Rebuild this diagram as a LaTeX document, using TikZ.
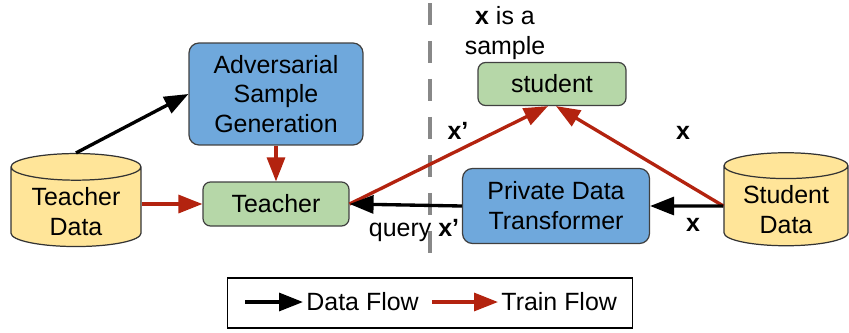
\documentclass[tikz,border=0pt]{standalone}
\usepackage{fontspec}
\setmainfont{Liberation Sans}
\usetikzlibrary{arrows.meta,shapes.geometric}

\definecolor{boxblue}{HTML}{6FA8DC}
\definecolor{boxgreen}{HTML}{B6D7A8}
\definecolor{datayellow}{HTML}{FFE599}
\definecolor{trainred}{HTML}{B3230F}
\definecolor{dashgray}{HTML}{888888}

\begin{document}
\begin{tikzpicture}[x=0.02cm,y=-0.02cm,
    font=\fontsize{14.2}{17}\selectfont,
    flow/.style={line width=1.9pt,-{Triangle[length=0.48cm,width=0.36cm]}},
    dataflow/.style={flow,black},
    trainflow/.style={flow,trainred},
    proc/.style={draw=black!75,line width=0.7pt,rounded corners=0.2cm,fill=boxblue,align=center,inner sep=0pt},
    model/.style={draw=black!75,line width=0.7pt,rounded corners=0.15cm,fill=boxgreen,align=center,inner sep=0pt},
    store/.style={cylinder,shape border rotate=90,aspect=0.3,draw=black!80,line width=0.7pt,fill=datayellow,align=center,inner sep=0pt},
    lbl/.style={font=\fontsize{14.2}{17}\selectfont\bfseries}]
    \useasboundingbox (0,0) rectangle (849,332);
    %\draw[very thin,color=gray] (0,0) grid[step=1cm] (849,332);
    \draw[dashgray,line width=0.08cm,dash pattern=on 0.44cm off 0.32cm] (430,3) -- (430,266);

    \node[store,minimum width=2.6cm,minimum height=1.86cm] (tdata) at (76,207) {\phantom{Teacher}\\\phantom{Data}};
    \node[align=center] (tdatatext) at (76,212) {Teacher\\Data};
    \node[proc,minimum width=3.48cm,minimum height=2.04cm] (adv) at (276,94) {Adversarial\\Sample\\Generation};
    \node[model,minimum width=2.92cm,minimum height=0.88cm] (teacher) at (276,204) {Teacher};
    \node[model,minimum width=2.96cm,minimum height=0.86cm] (student) at (552,84) {student};
    \node[proc,minimum width=3.74cm,minimum height=1.5cm] (pdt) at (556,206) {Private Data\\Transformer};
    \node[store,minimum width=2.48cm,minimum height=1.86cm] (sdata) at (786,206) {\phantom{Student}\\\phantom{Data}};
    \node[align=center] (sdatatext) at (786,210) {Student\\Data};
    \node[align=center] (note) at (505,33) {\textbf{x} is a\\sample};

    \draw[dataflow] (tdata.north) -- (adv.west);
    \draw[trainflow] (adv.south) -- (teacher.north);
    \draw[trainflow] (tdata.east |- teacher.west) -- (teacher.west);
    \draw[trainflow] (teacher.east) -- ([xshift=-0.08cm]student.south);
    \draw[trainflow] (sdata.west) -- ([xshift=0.08cm]student.south);
    \draw[dataflow] (sdata.west) -- (pdt.east);
    \draw[dataflow] (pdt.west) -- (teacher.east);

    \node[lbl] (xa) at (458,131) {x'};
    \node[lbl] (xb) at (683,133) {x};
    \node[lbl] (xc) at (693,225) {x};
    \node (query) at (414,231) {query \textbf{x'}};

    % legend
    \node[draw,line width=0.7pt,minimum width=8.1cm,minimum height=1cm,inner sep=0pt] (legend) at (430,303) {};
    \coordinate (l1) at (245,302);
    \coordinate (l2) at (303,302);
    \coordinate (l3) at (432,302);
    \coordinate (l4) at (498,302);
    \draw[dataflow] (l1) -- (l2) node[right,inner sep=1pt,text=black] {Data Flow};
    \draw[trainflow] (l3) -- (l4) node[right,inner sep=1pt,text=black] {Train Flow};
\end{tikzpicture}
\end{document}
